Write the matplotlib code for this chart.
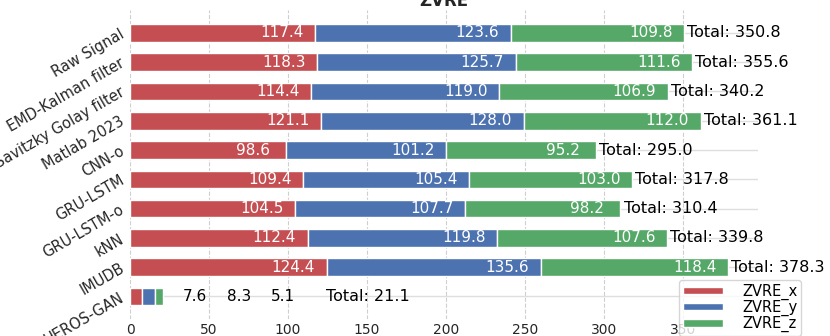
import matplotlib
matplotlib.use("Agg")
import matplotlib.pyplot as plt
import numpy as np

categories = ["Raw Signal", "EMD-Kalman filter", "Savitzky Golay filter", "Matlab 2023",
              "CNN-o", "GRU-LSTM", "GRU-LSTM-o", "kNN", "IMUDB", "HEROS-GAN"]
zvre_x = [117.4, 118.3, 114.4, 121.1, 98.6, 109.4, 104.5, 112.4, 124.4, 7.6]
zvre_y = [123.6, 125.7, 119.0, 128.0, 101.2, 105.4, 107.7, 119.8, 135.6, 8.3]
zvre_z = [109.8, 111.6, 106.9, 112.0, 95.2, 103.0, 98.2, 107.6, 118.4, 5.1]
totals = [350.8, 355.6, 340.2, 361.1, 295.0, 317.8, 310.4, 339.8, 378.3, 21.1]
series_names = ["ZVRE_x", "ZVRE_y", "ZVRE_z"]
colors = ["#C44E52", "#4C72B0", "#55A868"]
title = "ZVRE"

plt.rcParams['font.family'] = ['DejaVu Sans']

fig = plt.figure(figsize=(8.3, 3.36), dpi=100)
ax = fig.add_axes([130/830, 1 - 319.3/336, 627.6/830, 309.3/336])

y = np.arange(len(categories))
left = np.zeros(len(categories))
series = [zvre_x, zvre_y, zvre_z]
for vals, name, col in zip(series, series_names, colors):
    vals = np.array(vals)
    ax.barh(y, vals, left=left, height=0.6, color=col, edgecolor="white",
            linewidth=1.0, label=name, zorder=3)
    left = left + vals

# value labels
for i in range(len(categories)):
    small = totals[i] < 60
    start = 0.0
    for k, vals in enumerate(series):
        w = vals[i]
        end = start + w
        if not small:
            ax.text(end - 21, y[i], f"{w:.1f}", ha="center", va="center",
                    color="white", fontsize=11, zorder=4)
        else:
            ax.text(totals[i] + 20 + 28 * k, y[i], f"{w:.1f}", ha="center",
                    va="center", color="black", fontsize=11, zorder=4)
        start = end
    if not small:
        tx = totals[i] + 2
    else:
        tx = totals[i] + 103
    ax.text(tx, y[i], f"Total: {totals[i]:.1f}", ha="left", va="center",
            color="black", fontsize=11.5, zorder=4)

ax.set_xlim(0, max(totals) * 1.05)
ax.set_ylim(len(categories) - 1 + 0.78, -0.78)
ax.set_yticks(y)
ax.set_yticklabels(categories, rotation=30, ha="right", va="center",
                   rotation_mode="anchor", fontsize=10.5)
ax.set_xticks(np.arange(0, 351, 50))
ax.tick_params(axis="x", labelsize=10, length=0, pad=2.5, colors="#262626")
ax.tick_params(axis="y", length=0, pad=5, colors="#262626")

ax.xaxis.grid(True, linestyle="--", color="#cfcfcf", linewidth=0.8, zorder=0)
ax.yaxis.grid(True, linestyle="-", color="#dedede", linewidth=1.0, zorder=0)
ax.set_axisbelow(True)
for s in ax.spines.values():
    s.set_visible(False)

ax.set_title(title, fontsize=12, fontweight="bold", pad=2, color="#262626")

leg = ax.legend(loc="upper left", bbox_to_anchor=(679/830, 1 - 280/336),
                bbox_transform=fig.transFigure, fontsize=10.5, labelspacing=0.0,
                handlelength=2.8, handleheight=0.4, handletextpad=1.3,
                borderpad=0.25, borderaxespad=0.0, frameon=True, fancybox=True,
                framealpha=0.8, edgecolor="#cccccc")
leg.set_zorder(10)

fig.savefig("out.png", dpi=100)
